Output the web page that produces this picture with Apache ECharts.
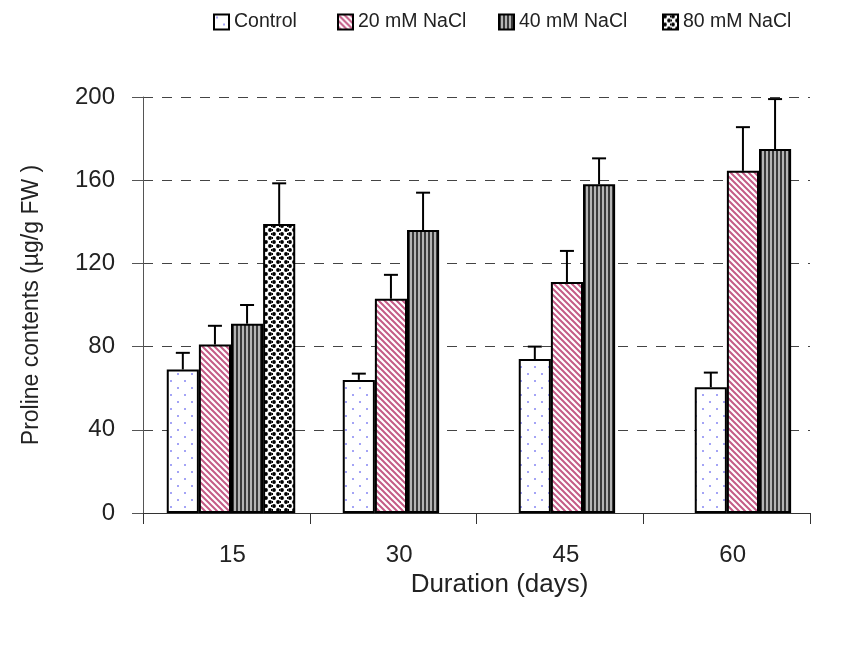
<!DOCTYPE html>
<html>
<head>
<meta charset="utf-8">
<script src="https://cdn.jsdelivr.net/npm/echarts@6/dist/echarts.min.js"></script>
<style>
html,body{margin:0;padding:0;background:#fff;}
#chart{width:847px;height:647px;}
</style>
</head>
<body>
<div id="chart"></div>
<script>
var categories = ['15', '30', '45', '60'];
var seriesNames = ['Control', '20 mM NaCl', '40 mM NaCl', '80 mM NaCl'];
var controlValues = [69, 64, 74, 60.5];
var nacl20Values = [81, 103, 111, 164.5];
var nacl40Values = [91, 136, 158, 175];
var nacl80Values = [139, null, null, null];
var controlErr = [8, 3, 6, 7];
var nacl20Err = [9, 11.5, 15, 21];
var nacl40Err = [9, 18, 12.5, 24];
var nacl80Err = [19.5, null, null, null];
var yTicks = [0, 40, 80, 120, 160, 200];

function makeTile(w, h, draw) {
  var c = document.createElement('canvas');
  c.width = w; c.height = h;
  var ctx = c.getContext('2d');
  ctx.fillStyle = '#fff';
  ctx.fillRect(0, 0, w, h);
  draw(ctx);
  return {image: c, repeat: 'repeat'};
}
var patControl = makeTile(14, 14, function (ctx) {
  ctx.fillStyle = '#a4a4f6';
  ctx.fillRect(2, 2, 2, 2);
  ctx.fillRect(9, 9, 2, 2);
});
var pat20 = makeTile(6, 6, function (ctx) {
  ctx.strokeStyle = '#c45c86';
  ctx.lineWidth = 2;
  ctx.beginPath();
  ctx.moveTo(-1, -1); ctx.lineTo(7, 7);
  ctx.moveTo(-4, 2); ctx.lineTo(4, 10);
  ctx.moveTo(2, -4); ctx.lineTo(10, 4);
  ctx.stroke();
});
var pat40 = makeTile(4, 4, function (ctx) {
  ctx.fillStyle = '#3a3a3a';
  ctx.fillRect(0, 0, 2, 4);
  ctx.fillStyle = '#b4b4b4';
  ctx.fillRect(2, 0, 2, 4);
});
var pat80 = makeTile(8, 8, function (ctx) {
  ctx.fillStyle = '#000';
  ctx.beginPath();
  ctx.arc(2, 2, 1.9, 0, Math.PI * 2);
  ctx.arc(6, 6, 1.9, 0, Math.PI * 2);
  ctx.fill();
  ctx.fillRect(0, 5, 1, 2);
  ctx.fillRect(7, 1, 1, 2);
});
var patterns = [patControl, pat20, pat40, pat80];
var values = [controlValues, nacl20Values, nacl40Values, nacl80Values];
var errors = [controlErr, nacl20Err, nacl40Err, nacl80Err];

var GAP = 0.27;
var errData = [];
for (var s = 0; s < 4; s++) {
  for (var i = 0; i < categories.length; i++) {
    if (values[s][i] != null) errData.push([i, values[s][i], errors[s][i], s]);
  }
}

var font = 'Liberation Sans, Arial, sans-serif';
var series = [];
for (var k = 0; k < 4; k++) {
  series.push({
    name: seriesNames[k],
    type: 'bar',
    xAxisIndex: 1,
    yAxisIndex: 1,
    data: values[k],
    barGap: '0%',
    barCategoryGap: (GAP * 100) + '%',
    itemStyle: {color: patterns[k], borderColor: '#000', borderWidth: 2},
    emphasis: {disabled: true},
    z: 2
  });
}
series.push({
  type: 'custom',
  name: 'err',
  xAxisIndex: 1,
  yAxisIndex: 1,
  data: errData,
  z: 3,
  silent: true,
  renderItem: function (params, api) {
    var cat = api.value(0), val = api.value(1), err = api.value(2), sIdx = api.value(3);
    var base = api.coord([cat, val]);
    var band = api.size([1, 0])[0];
    var bw = band * (1 - GAP) / 4;
    var x = base[0] + (sIdx - 1.5) * bw;
    var top = api.coord([cat, val + err])[1];
    return {
      type: 'group',
      children: [
        {type: 'line', shape: {x1: x, y1: base[1], x2: x, y2: top}, style: {stroke: '#000', lineWidth: 2}},
        {type: 'line', shape: {x1: x - 7, y1: top, x2: x + 7, y2: top}, style: {stroke: '#000', lineWidth: 2}}
      ]
    };
  }
});

var legendLefts = [213, 337, 498, 662];
var legends = seriesNames.map(function (n, idx) {
  return {
    data: [n],
    left: legendLefts[idx],
    top: 12,
    padding: 0,
    icon: 'rect',
    itemWidth: 15,
    itemHeight: 15,
    textStyle: {fontSize: 19.5, color: '#222', fontFamily: font}
  };
});

var chart = echarts.init(document.getElementById('chart'), null, {renderer: 'canvas'});
chart.setOption({
  animation: false,
  backgroundColor: '#fff',
  textStyle: {fontFamily: font},
  legend: legends,
  grid: [
    {left: 143, top: 97, width: 667, bottom: 134, containLabel: false},
    {left: 143, top: 97, width: 711, bottom: 134, containLabel: false}
  ],
  xAxis: [{
    type: 'category',
    gridIndex: 0,
    data: categories,
    name: 'Duration (days)',
    nameLocation: 'middle',
    nameGap: 52,
    nameTextStyle: {fontSize: 26, color: '#222', fontFamily: font, padding: [0, 0, 0, 46]},
    axisLine: {lineStyle: {color: '#333', width: 1}},
    axisTick: {show: true, length: 11, inside: false, lineStyle: {color: '#333'}},
    axisLabel: {fontSize: 24, color: '#222', margin: 30, fontFamily: font, padding: [0, 0, 0, 12]},
    splitLine: {show: false}
  }, {
    type: 'category',
    gridIndex: 1,
    data: categories,
    show: false
  }],
  yAxis: [{
    type: 'value',
    gridIndex: 0,
    min: yTicks[0],
    max: yTicks[yTicks.length - 1],
    interval: 40,
    name: 'Proline contents (µg/g FW )',
    nameLocation: 'middle',
    nameGap: 100,
    nameRotate: 90,
    nameTextStyle: {fontSize: 23, color: '#222', fontFamily: font},
    axisLine: {show: true, lineStyle: {color: '#555', width: 1}},
    axisTick: {show: true, length: 11, inside: false, lineStyle: {color: '#555'}},
    axisLabel: {fontSize: 24, color: '#222', margin: 28, fontFamily: font},
    splitLine: {show: true, lineStyle: {color: '#444', width: 1, type: [10, 9]}}
  }, {
    type: 'value',
    gridIndex: 1,
    min: yTicks[0],
    max: yTicks[yTicks.length - 1],
    interval: 40,
    show: false,
    splitLine: {show: false}
  }],
  series: series
});
</script>
</body>
</html>
